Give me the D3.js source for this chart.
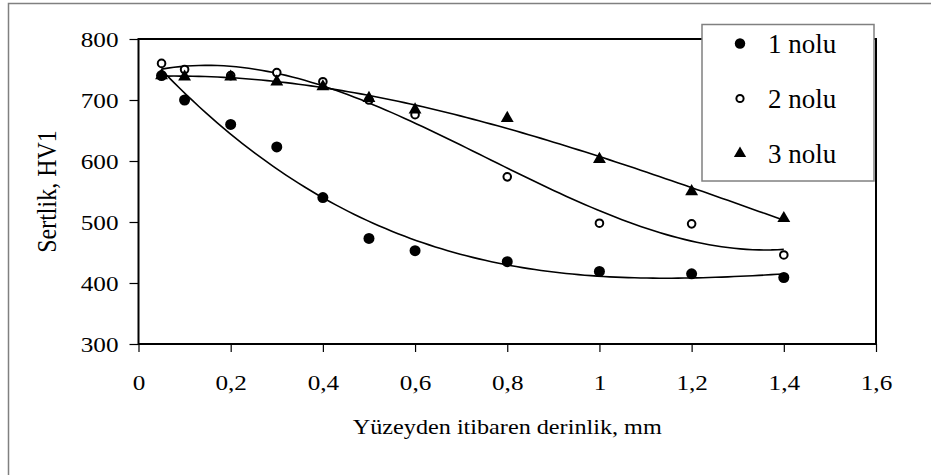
<!DOCTYPE html>
<html>
<head>
<meta charset="utf-8">
<script src="https://cdn.jsdelivr.net/npm/d3@7"></script>
<style>
  body { margin: 0; background: #fff; }
  svg text { font-family: "Liberation Serif", "DejaVu Serif", serif; fill: #000; }
</style>
</head>
<body>
<div id="chart"></div>
<script>
// derinlik (mm) and hardness values
const depths = [0.05, 0.1, 0.2, 0.3, 0.4, 0.5, 0.6, 0.8, 1.0, 1.2, 1.4];
const nolu1 = [740, 700, 660, 623, 540, 473, 453, 435, 419, 415, 409];
const nolu2 = [760, 750, 740, 745, 730, 700, 676, 574, 498, 497, 446];
const nolu3 = [740, 738, 738, 730, 722, 703, 684, 670, 603, 550, 506];
const seriesNames = ["1 nolu", "2 nolu", "3 nolu"];
const xTicks = [0, 0.2, 0.4, 0.6, 0.8, 1, 1.2, 1.4, 1.6];
const yTicks = [300, 400, 500, 600, 700, 800];

const width = 931, height = 475;
const margin = {left: 138.5, top: 39, right: 931 - 876, bottom: 475 - 344};
const SERIF = "Liberation Serif";

const svg = d3.select("#chart").append("svg")
    .attr("width", width)
    .attr("height", height);

// outer frame (right/bottom run off the picture)
svg.append("rect")
    .attr("x", 8.5).attr("y", 3.5)
    .attr("width", 960).attr("height", 520)
    .attr("fill", "none")
    .attr("stroke", "#808080")
    .attr("stroke-width", 1.5);

var x = d3.scaleLinear().domain([0, 1.6]).range([margin.left, width - margin.right]);
var y = d3.scaleLinear().domain([300, 800]).range([height - margin.bottom, margin.top]);

var fmt = function(d) { return String(d).replace(".", ","); };

svg.append("g")
    .attr("transform", "translate(0," + y(300) + ")")
    .call(d3.axisBottom(x).tickValues(xTicks).tickSize(8).tickFormat(fmt))
    .call(g => g.select(".domain").remove())
    .call(g => g.selectAll("line").attr("stroke", "#000").attr("stroke-width", 1.2))
    .selectAll("text")
        .attr("y", 0).attr("dy", 0)
        .attr("transform", "translate(0,46) scale(1.2,1)")
        .attr("font-size", 21)
        .attr("font-family", SERIF);

svg.append("g")
    .attr("transform", "translate(" + x(0) + ",0)")
    .call(d3.axisLeft(y).tickValues(yTicks).tickSize(9))
    .call(g => g.select(".domain").remove())
    .call(g => g.selectAll("line").attr("stroke", "#000").attr("stroke-width", 1.2))
    .selectAll("text")
        .attr("x", 0).attr("dy", 0)
        .attr("transform", "translate(-20,7) scale(1.2,1)")
        .attr("font-size", 21)
        .attr("font-family", SERIF);

// plot frame
svg.append("rect")
    .attr("x", x(0)).attr("y", y(800))
    .attr("width", x(1.6) - x(0)).attr("height", y(300) - y(800))
    .attr("fill", "none")
    .attr("stroke", "#000")
    .attr("stroke-width", 2);

svg.append("text")
    .attr("transform", "translate(" + (x(0) + x(1.6)) / 2 + ",434) scale(1.1,1)")
    .attr("text-anchor", "middle")
    .attr("font-size", 22)
    .attr("font-family", SERIF)
    .text("Yüzeyden itibaren derinlik, mm");

svg.append("text")
    .attr("transform", "translate(56," + y(550) + ") scale(1.1,1) rotate(-90)")
    .attr("text-anchor", "middle")
    .attr("font-size", 24)
    .attr("font-family", SERIF)
    .text("Sertlik, HV1");

// cubic least-squares trendline, like the spreadsheet did
function polyFit(xs, ys, order) {
    const n = order + 1;
    const A = [];
    for (let i = 0; i < n; i++) {
        A.push(new Array(n + 1).fill(0));
        for (let j = 0; j < n; j++) {
            A[i][j] = d3.sum(xs, v => Math.pow(v, i + j));
        }
        A[i][n] = d3.sum(xs, (v, k) => ys[k] * Math.pow(v, i));
    }
    for (let c = 0; c < n; c++) {
        let p = c;
        for (let r = c + 1; r < n; r++) if (Math.abs(A[r][c]) > Math.abs(A[p][c])) p = r;
        [A[c], A[p]] = [A[p], A[c]];
        for (let r = 0; r < n; r++) {
            if (r === c) continue;
            const f = A[r][c] / A[c][c];
            for (let k = c; k <= n; k++) A[r][k] -= f * A[c][k];
        }
    }
    const coef = A.map((row, i) => row[n] / row[i]);
    return v => d3.sum(coef, (cf, i) => cf * Math.pow(v, i));
}

const allSeries = [nolu1, nolu2, nolu3];
const line = d3.line().x(d => x(d[0])).y(d => y(d[1]));

allSeries.forEach(function(vals) {
    const f = polyFit(depths, vals, 3);
    const pts = d3.range(0, 101).map(i => {
        const t = depths[0] + (depths[depths.length - 1] - depths[0]) * i / 100;
        return [t, f(t)];
    });
    svg.append("path")
        .datum(pts)
        .attr("d", line)
        .attr("fill", "none")
        .attr("stroke", "#000")
        .attr("stroke-width", 1.6);
});

function drawMarker(g, idx, scale) {
    if (idx === 0) {
        g.append("circle").attr("r", 5.5 * scale).attr("fill", "#000");
    } else if (idx === 1) {
        g.append("circle").attr("r", 3.8 * scale).attr("fill", "#fff").attr("stroke", "#000").attr("stroke-width", 2);
    } else {
        g.append("path").attr("d", d3.symbol().type(d3.symbolTriangle).size(72 * scale * scale)).attr("fill", "#000");
    }
}

allSeries.forEach(function(vals, idx) {
    svg.append("g").selectAll("g")
        .data(depths.map((d, i) => [d, vals[i]]))
        .enter()
        .append("g")
        .attr("transform", d => "translate(" + x(d[0]) + "," + y(d[1]) + ")")
        .each(function() { drawMarker(d3.select(this), idx, 1); });
});

// legend
const legend = svg.append("g").attr("transform", "translate(702,24.5)");
legend.append("rect")
    .attr("width", 172).attr("height", 156.5)
    .attr("fill", "#fff")
    .attr("stroke", "#808080")
    .attr("stroke-width", 1.5);

seriesNames.forEach(function(name, idx) {
    const row = legend.append("g").attr("transform", "translate(0," + (19 + idx * 55) + ")");
    const m = row.append("g").attr("transform", "translate(38,0)");
    drawMarker(m, idx, 0.95);
    row.append("text")
        .attr("x", 66).attr("y", 9)
        .attr("font-size", 27)
        .attr("font-family", SERIF)
        .text(name);
});
</script>
</body>
</html>
